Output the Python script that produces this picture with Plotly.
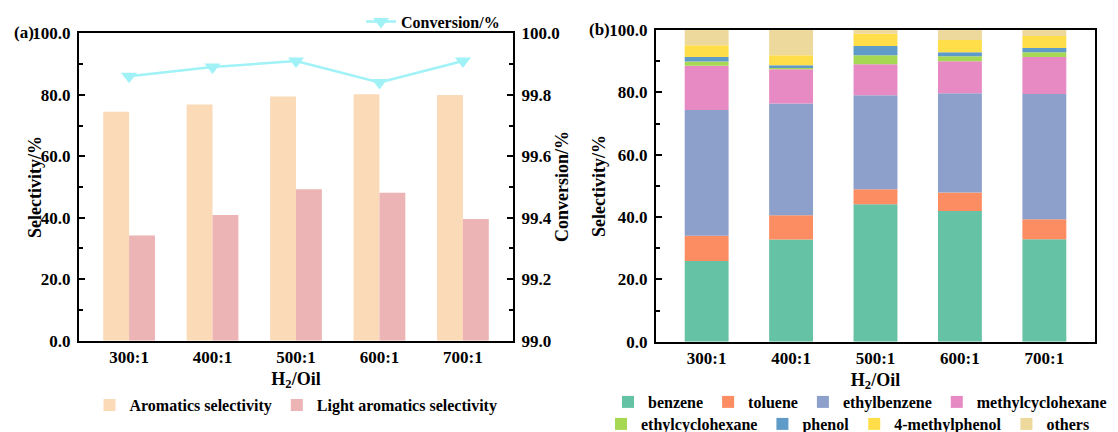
import numpy as np
import plotly.graph_objects as go

ratios = ["300:1", "400:1", "500:1", "600:1", "700:1"]
aromatics = [74.5, 76.8, 79.4, 80.2, 79.9]
light_aromatics = [34.2, 40.9, 49.3, 48.1, 39.6]
conversion = [99.86, 99.89, 99.91, 99.84, 99.91]

components = ["benzene", "toluene", "ethylbenzene", "methylcyclohexane",
              "ethylcyclohexane", "phenol", "4-methylphenol", "others"]
benzene = [25.9, 32.8, 44.1, 41.9, 32.9]
toluene = [8.1, 7.8, 4.8, 6.0, 6.4]
ethylbenzene = [40.3, 35.8, 30.2, 31.8, 40.2]
methylcyclohexane = [14.2, 11.0, 9.9, 10.3, 11.8]
ethylcyclohexane = [1.4, 0.7, 2.9, 1.6, 1.6]
phenol = [1.4, 0.6, 3.0, 1.3, 1.3]
methylphenol = [3.8, 3.2, 3.9, 3.9, 3.9]
others = [4.9, 8.1, 1.2, 3.2, 1.9]
comp_values = [benzene, toluene, ethylbenzene, methylcyclohexane,
               ethylcyclohexane, phenol, methylphenol, others]
comp_colors = ["#66C2A5", "#FC8D62", "#8DA0CB", "#E78AC3",
               "#A6D854", "#5F9BC9", "#FFDE4A", "#EDD99B"]

W, H = 1118, 432
FONT = "Liberation Serif"
tickfont = dict(family=FONT, size=17, color="black", weight="bold")
titlefont = dict(family=FONT, size=18, color="black", weight="bold")
legfont = dict(family=FONT, size=16, color="black", weight="bold")

fig = go.Figure()

# Left chart bars
fig.add_trace(go.Bar(x=ratios, y=aromatics, name="Aromatics selectivity",
                     marker=dict(color="#FBDAB8", line=dict(width=0)),
                     width=0.31, offset=-0.31, offsetgroup="a",
                     xaxis="x", yaxis="y", legend="legend2", showlegend=True))
fig.add_trace(go.Bar(x=ratios, y=light_aromatics, name="Light aromatics selectivity",
                     marker=dict(color="#ECB4B4", line=dict(width=0)),
                     width=0.31, offset=0.0, offsetgroup="b",
                     xaxis="x", yaxis="y", legend="legend2", showlegend=True))
fig.add_trace(go.Scatter(x=ratios, y=conversion, name="Conversion/%",
                         mode="lines+markers",
                         line=dict(color="#A0F2F7", width=2.5),
                         marker=dict(symbol="triangle-down", size=14, color="#A0F2F7"),
                         xaxis="x", yaxis="y2", legend="legend", showlegend=True))

# Right chart stacked bars
base = np.zeros(len(ratios))
for i, (name, vals, col) in enumerate(zip(components, comp_values, comp_colors)):
    fig.add_trace(go.Bar(x=ratios, y=vals, base=base.copy(), name=name,
                         marker=dict(color=col, line=dict(width=0)),
                         width=0.52, offset=-0.26, offsetgroup="s",
                         xaxis="x2", yaxis="y3", showlegend=True,
                         legend="legend3" if i < 4 else "legend4"))
    base = base + np.array(vals)

axis_common = dict(showline=True, linewidth=2, linecolor="black",
                   showgrid=False, zeroline=False, tickfont=tickfont)
ytick_common = dict(ticks="inside", ticklen=6, tickwidth=2, tickcolor="black",
                    tickformat=".1f", ticklabelstandoff=3)

def ytitle(text, xpx, ypx):
    return dict(text=text, x=xpx / W, y=1 - ypx / H, xref="paper", yref="paper",
                xanchor="center", yanchor="middle", textangle=-90,
                showarrow=False, font=titlefont)

fig.update_layout(
    width=W, height=H,
    margin=dict(l=0, r=0, t=0, b=0, autoexpand=False),
    paper_bgcolor="white", plot_bgcolor="white",
    barmode="group", showlegend=True,
    font=dict(family=FONT, color="black"),
    xaxis=dict(domain=[79 / W, 513 / W], anchor="y", range=[-0.6, 4.6],
               ticks="", mirror=True,
               title=dict(text="H<sub>2</sub>/Oil", font=titlefont, standoff=6),
               **axis_common),
    yaxis=dict(domain=[1 - 340.7 / H, 1 - 33.3 / H], anchor="x", range=[0, 100],
               dtick=20,
               minor=dict(dtick=10, ticks="inside", ticklen=4, tickwidth=1.5, tickcolor="black"),
               **ytick_common, **axis_common),
    yaxis2=dict(overlaying="y", side="right", anchor="x", range=[99.0, 100.0],
                dtick=0.2,
                minor=dict(dtick=0.1, ticks="inside", ticklen=4, tickwidth=1.5, tickcolor="black"),
                **ytick_common, **axis_common),
    xaxis2=dict(domain=[656 / W, 1095 / W], anchor="y3", range=[-0.6, 4.6],
                ticks="", mirror=True,
                title=dict(text="H<sub>2</sub>/Oil", font=titlefont, standoff=6),
                **axis_common),
    yaxis3=dict(domain=[1 - 341.7 / H, 1 - 30 / H], anchor="x2", range=[0, 100],
                dtick=20, mirror=True,
                minor=dict(dtick=10, ticks="inside", ticklen=4, tickwidth=1.5, tickcolor="black"),
                **ytick_common, **axis_common),
    legend=dict(x=505 / W, xanchor="right", y=1 - 21.7 / H, yanchor="middle",
                orientation="h", bgcolor="rgba(0,0,0,0)", font=legfont),
    legend2=dict(x=296 / W, xanchor="center", y=1 - 405 / H, yanchor="middle",
                 orientation="h", bgcolor="rgba(0,0,0,0)", font=legfont),
    legend3=dict(x=860 / W, xanchor="center", y=1 - 402 / H, yanchor="middle",
                 orientation="h", bgcolor="rgba(0,0,0,0)", font=legfont),
    legend4=dict(x=848 / W, xanchor="center", y=1 - 424 / H, yanchor="middle",
                 orientation="h", bgcolor="rgba(0,0,0,0)", font=legfont),
    annotations=[
        dict(text="(a)", x=12 / W, y=1 - 33 / H, xref="paper", yref="paper",
             xanchor="left", yanchor="middle", showarrow=False,
             font=dict(family=FONT, size=17, color="black", weight="bold")),
        dict(text="(b)", x=587 / W, y=1 - 30 / H, xref="paper", yref="paper",
             xanchor="left", yanchor="middle", showarrow=False,
             font=dict(family=FONT, size=17, color="black", weight="bold")),
        ytitle("Selectivity/%", 35, 187),
        ytitle("Conversion/%", 562, 187),
        ytitle("Selectivity/%", 599, 186),
    ],
)

fig.write_html("out.html")
